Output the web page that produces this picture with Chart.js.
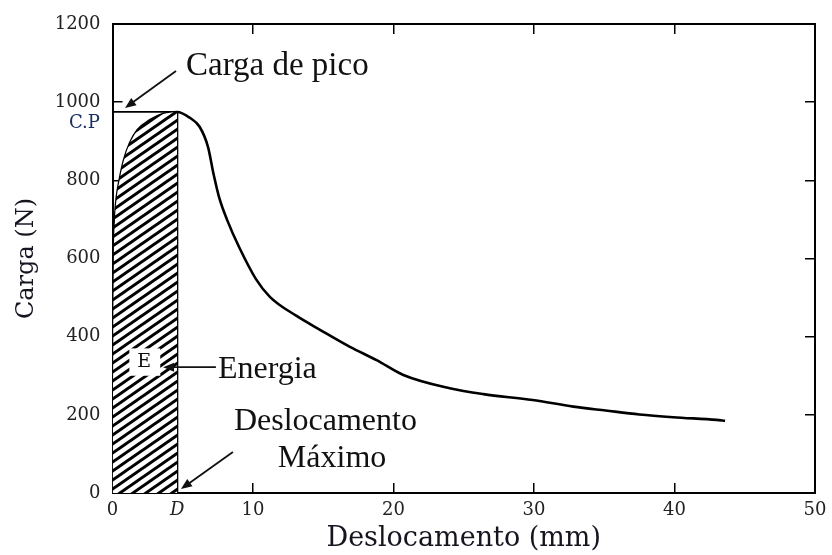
<!DOCTYPE html>
<html>
<head>
<meta charset="utf-8">
<script src="https://cdn.jsdelivr.net/npm/chart.js@4"></script>
<style>
  html, body { margin: 0; padding: 0; background: #fff; }
  #wrap { width: 832px; height: 555px; }
</style>
</head>
<body>
<div id="wrap"><canvas id="c" width="832" height="555"></canvas></div>
<script>
// ---- data ----
const D = 4.6;            // displacement at peak load (mm)
const peakLoad = 975;     // C.P (N)
const riseX = [0, 0.03, 0.06, 0.1, 0.18, 0.3, 0.53, 0.82, 1.24, 1.8, 2.67, 3.6, 4.6];
const riseY = [0, 200, 400, 600, 700, 755, 805, 852, 895, 929, 954, 970, 975];
const fallX = [5.5, 6.2, 6.8, 7.2, 7.6, 8.2, 9.0, 10.2, 11.2, 13.1, 14.8, 16.9, 18.8, 20.7, 24.0, 26.4, 29.9, 32.8, 35.1, 37.5, 39.9, 43.0, 43.6];
const fallY = [960, 937, 885, 815, 755, 695, 630, 548, 502, 453, 417, 374, 340, 302, 268, 253, 238, 221, 211, 201, 194, 187, 185];
const xTicks = [0, D, 10, 20, 30, 40, 50];
const xTickLabels = ['0', 'D', '10', '20', '30', '40', '50'];
const yTicks = [0, 200, 400, 600, 800, 1000, 1200];

const toPts = (xs, ys) => xs.map((x, i) => ({ x: x, y: ys[i] }));
const curvePts = toPts(riseX.concat(fallX), riseY.concat(fallY));
const hatchPts = toPts(riseX, riseY);

// hatch pattern ("/" stripes)
function makeHatch() {
  const w = 13, h = 9;
  const cv = document.createElement('canvas');
  cv.width = w; cv.height = h;
  const g = cv.getContext('2d');
  g.fillStyle = '#fff';
  g.fillRect(0, 0, w, h);
  g.strokeStyle = '#000';
  g.lineWidth = 3.0;
  for (let k = -1; k <= 1; k++) {
    g.beginPath();
    g.moveTo(-1, h + k * h + h / w);
    g.lineTo(w + 1, k * h - h / w);
    g.stroke();
  }
  return g.createPattern(cv, 'repeat');
}

const serifA = '"Liberation Serif", "Times New Roman", serif';
const serifB = '"DejaVu Serif", serif';
const ink = '#111';

function arrow(ctx, x1, y1, x2, y2) {
  ctx.save();
  ctx.strokeStyle = ink; ctx.fillStyle = ink; ctx.lineWidth = 1.8;
  const ang = Math.atan2(y2 - y1, x2 - x1);
  const L = 11, W = 4.5;
  ctx.beginPath();
  ctx.moveTo(x1, y1);
  ctx.lineTo(x2 - Math.cos(ang) * L * 0.8, y2 - Math.sin(ang) * L * 0.8);
  ctx.stroke();
  ctx.beginPath();
  ctx.moveTo(x2, y2);
  ctx.lineTo(x2 - Math.cos(ang) * L - Math.sin(ang) * W, y2 - Math.sin(ang) * L + Math.cos(ang) * W);
  ctx.lineTo(x2 - Math.cos(ang) * L + Math.sin(ang) * W, y2 - Math.sin(ang) * L - Math.cos(ang) * W);
  ctx.closePath();
  ctx.fill();
  ctx.restore();
}

const annotate = {
  id: 'annotate',
  afterDatasetsDraw(chart) {
    const ctx = chart.ctx;
    const X = v => chart.scales.x.getPixelForValue(v);
    const Y = v => chart.scales.y.getPixelForValue(v);
    ctx.save();
    ctx.fillStyle = ink;
    ctx.textAlign = 'left';
    ctx.textBaseline = 'alphabetic';
    ctx.font = '33px ' + serifA;
    ctx.fillText('Carga de pico', X(5.23), Y(1070));
    ctx.font = '32px ' + serifA;
    ctx.fillText('Energia', X(7.5), Y(294));
    ctx.fillText('Deslocamento', X(8.64), Y(161));
    ctx.fillText('Máximo', X(11.77), Y(67));
    arrow(ctx, X(4.52), Y(1080), X(0.89), Y(985));
    arrow(ctx, X(7.36), Y(322), X(3.6), Y(322));
    arrow(ctx, X(8.57), Y(105), X(4.87), Y(10));
    // E label with white box
    ctx.fillStyle = '#fff';
    const bx1 = X(1.2), bx2 = X(3.4), by1 = Y(370), by2 = Y(300);
    ctx.fillRect(bx1, by1, bx2 - bx1, by2 - by1);
    ctx.fillStyle = ink;
    ctx.font = '19px ' + serifB;
    ctx.textAlign = 'center';
    ctx.textBaseline = 'middle';
    ctx.fillText('E', X(2.25), Y(335));
    // C.P label left of axis
    ctx.fillStyle = '#1b2f63';
    ctx.font = '18px ' + serifB;
    ctx.textAlign = 'right';
    ctx.fillText('C.P', X(-0.9), Y(947));
    ctx.restore();
  }
};

const tickFont = { family: serifB, size: 18 };
const frameGrid = { drawOnChartArea: false, drawTicks: true, tickLength: -10, color: '#000', lineWidth: 1.5 };
const frameBorder = { display: true, color: '#000', width: 2 };

new Chart(document.getElementById('c'), {
  type: 'line',
  data: {
    datasets: [
      { data: hatchPts, parsing: false, borderWidth: 0, pointRadius: 0, fill: 'origin',
        backgroundColor: makeHatch(), cubicInterpolationMode: 'monotone' },
      { data: curvePts, parsing: false, borderColor: '#000', borderWidth: 2.6, pointRadius: 0,
        fill: false, cubicInterpolationMode: 'monotone' },
      { data: [{ x: D, y: 0 }, { x: D, y: peakLoad }], parsing: false, borderColor: '#000',
        borderWidth: 2.4, pointRadius: 0, fill: false, tension: 0 },
      { data: [{ x: 0, y: peakLoad }, { x: D, y: peakLoad }], parsing: false, borderColor: '#000',
        borderWidth: 1.8, pointRadius: 0, fill: false, tension: 0 }
    ]
  },
  options: {
    responsive: false,
    animation: false,
    devicePixelRatio: 1,
    layout: { padding: { top: 24, right: 17, left: 0, bottom: 0 } },
    plugins: { legend: { display: false }, tooltip: { enabled: false } },
    scales: {
      x: {
        type: 'linear', position: 'bottom', min: 0, max: 50,
        afterBuildTicks: s => { s.ticks = xTicks.map(v => ({ value: v })); },
        afterFit: s => { s.height = 62; s.paddingLeft = 0; s.paddingRight = 0; },
        grid: frameGrid, border: frameBorder,
        ticks: {
          color: '#222', padding: 17, maxRotation: 0, autoSkip: false,
          font: c => (c.tick && c.tick.value === D) ? { family: serifB, size: 18, style: 'italic' } : tickFont,
          callback: (v, i) => xTickLabels[i]
        },
        title: { display: true, text: 'Deslocamento (mm)', color: '#151520',
                 font: { family: serifB, size: 27 }, padding: { top: 0, bottom: 0 } }
      },
      x2: {
        type: 'linear', position: 'top', min: 0, max: 50,
        afterBuildTicks: s => { s.ticks = [0, 10, 20, 30, 40, 50].map(v => ({ value: v })); },
        afterFit: s => { s.height = 0; s.paddingLeft = 0; s.paddingRight = 0; },
        grid: frameGrid, border: frameBorder, ticks: { display: false }
      },
      y: {
        type: 'linear', position: 'left', min: 0, max: 1200,
        afterBuildTicks: s => { s.ticks = yTicks.map(v => ({ value: v })); },
        afterFit: s => { s.width = 112.5; s.paddingTop = 0; s.paddingBottom = 0; },
        grid: frameGrid, border: frameBorder,
        ticks: { color: '#222', padding: 22, font: tickFont, callback: v => String(v) },
        title: { display: true, text: 'Carga (N)', color: '#151520',
                 font: { family: serifB, size: 24 }, padding: { top: 12, bottom: 0 } }
      },
      y2: {
        type: 'linear', position: 'right', min: 0, max: 1200,
        afterBuildTicks: s => { s.ticks = yTicks.map(v => ({ value: v })); },
        afterFit: s => { s.width = 0; s.paddingTop = 0; s.paddingBottom = 0; },
        grid: frameGrid, border: frameBorder, ticks: { display: false }
      }
    }
  },
  plugins: [annotate]
});
</script>
</body>
</html>
